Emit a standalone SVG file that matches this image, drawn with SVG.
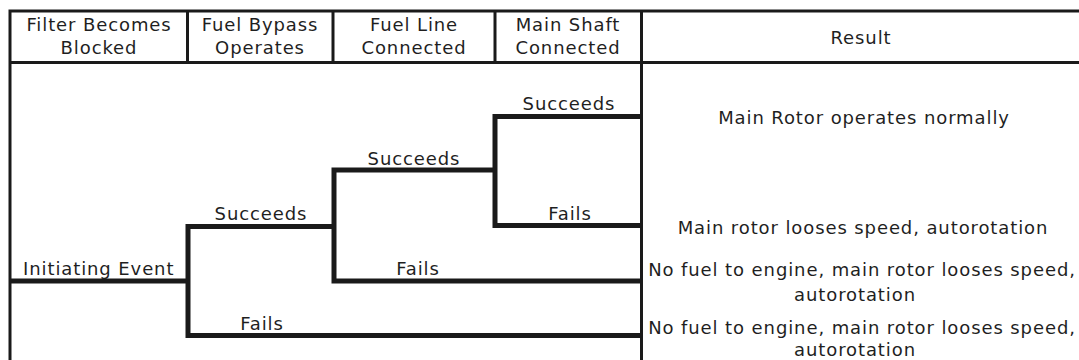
<svg xmlns="http://www.w3.org/2000/svg" width="1079" height="360" viewBox="0 0 1079 360">
<style>
  text { font-family: "DejaVu Sans", Verdana, sans-serif; font-size: 18px; fill: #1f1f1f; letter-spacing: 0.9px; }
  .c { text-anchor: middle; }
  .grid { stroke: #1a1a1a; stroke-width: 3; fill: none; }
  .br { stroke: #1a1a1a; stroke-width: 5; fill: none; stroke-linejoin: miter; stroke-linecap: butt; }
</style>
<rect width="1079" height="360" fill="#ffffff"/>
<g id="table">
  <path class="grid" d="M8.5 11 H1079 M8.5 62.5 H1079 M10 9.5 V360 M641.5 11 V360 M187.5 11 V62.5 M333 11 V62.5 M495 11 V62.5"/>
</g>
<g id="header-filter"><text class="c" x="99" y="31">Filter Becomes</text><text class="c" x="99" y="54">Blocked</text></g>
<g id="header-bypass"><text class="c" x="260" y="31">Fuel Bypass</text><text class="c" x="260" y="54">Operates</text></g>
<g id="header-fuelline"><text class="c" x="414" y="31">Fuel Line</text><text class="c" x="414" y="54">Connected</text></g>
<g id="header-shaft"><text class="c" x="568" y="31">Main Shaft</text><text class="c" x="568" y="54">Connected</text></g>
<g id="header-result"><text class="c" x="861" y="44">Result</text></g>
<g id="connectors">
  <path class="br" d="M10 281 H188"/>
  <path class="br" d="M334 226.5 H188 V335.5 H641"/>
  <path class="br" d="M495 170 H334 V281 H641"/>
  <path class="br" d="M641 116.5 H495 V225.5 H641"/>
</g>
<g id="initiating-event"><text x="23" y="275">Initiating Event</text></g>
<g id="bypass-succeeds"><text class="c" x="261" y="220">Succeeds</text></g>
<g id="bypass-fails"><text class="c" x="262" y="330">Fails</text></g>
<g id="fuelline-succeeds"><text class="c" x="414" y="165">Succeeds</text></g>
<g id="fuelline-fails"><text class="c" x="418" y="275">Fails</text></g>
<g id="shaft-succeeds"><text class="c" x="569" y="110">Succeeds</text></g>
<g id="shaft-fails"><text class="c" x="570" y="220">Fails</text></g>
<g id="result-1"><text class="c" x="864" y="124">Main Rotor operates normally</text></g>
<g id="result-2"><text class="c" x="863" y="234">Main rotor looses speed, autorotation</text></g>
<g id="result-3"><text class="c" x="862" y="276">No fuel to engine, main rotor looses speed,</text><text class="c" x="855" y="301">autorotation</text></g>
<g id="result-4"><text class="c" x="862" y="334">No fuel to engine, main rotor looses speed,</text><text class="c" x="855" y="356">autorotation</text></g>
</svg>
